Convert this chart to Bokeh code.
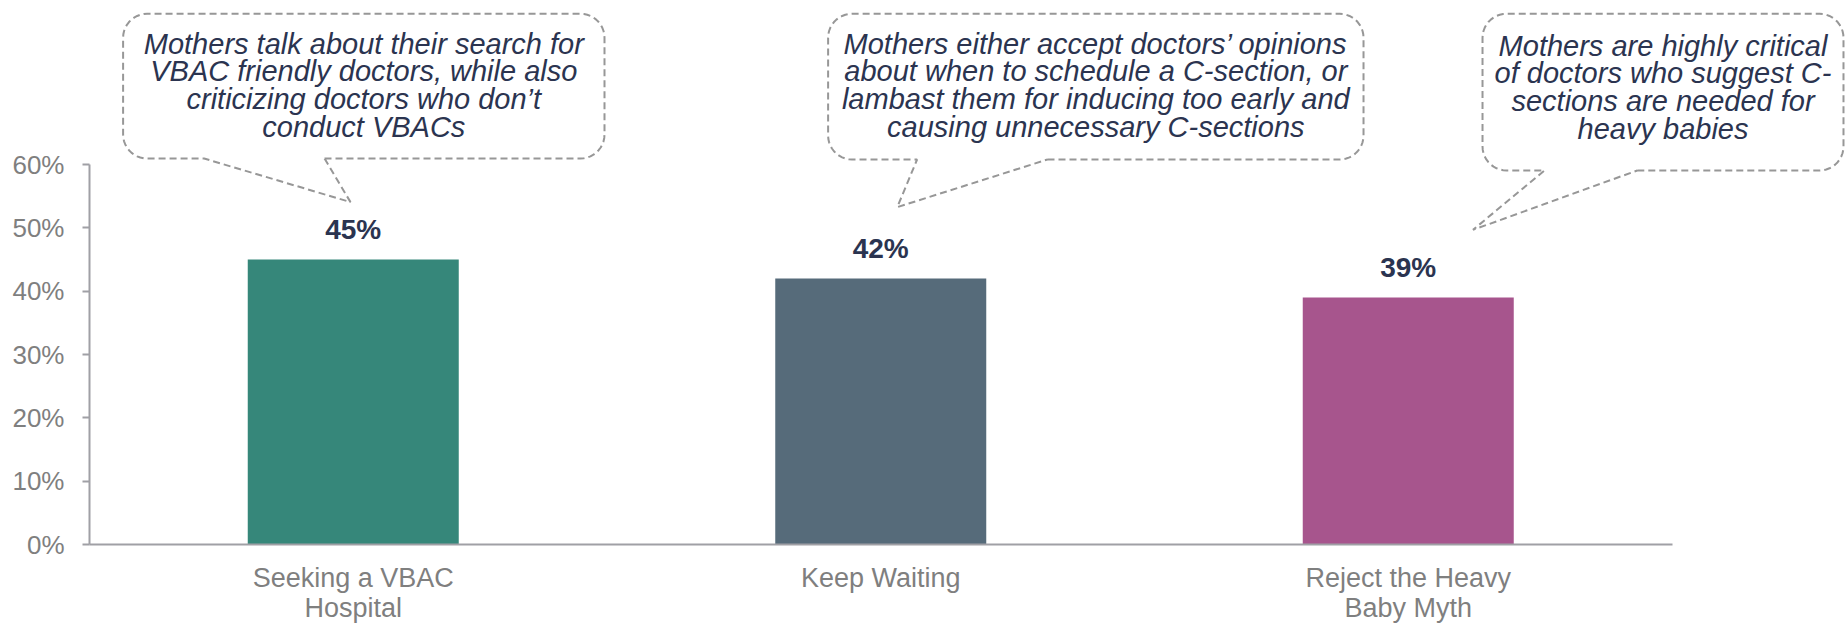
import numpy as np
from bokeh.plotting import figure
from bokeh.models import FixedTicker, PrintfTickFormatter, ColumnDataSource, Range1d
from bokeh.core.properties import value
from bokeh.embed import file_html
from bokeh.resources import INLINE

# ---------------- data ----------------
categories = ["Seeking a VBAC Hospital", "Keep Waiting", "Reject the Heavy Baby Myth"]
tick_labels = ["Seeking a VBAC\nHospital", "Keep Waiting", "Reject the Heavy\nBaby Myth"]
values = [45, 42, 39]
value_labels = ["45%", "42%", "39%"]
bar_colors = ["#36877A", "#566B7A", "#A7558D"]
y_ticks = [0, 10, 20, 30, 40, 50, 60]
callout_lines = [
    ["Mothers talk about their search for", "VBAC friendly doctors, while also",
     "criticizing doctors who don\u2019t", "conduct VBACs"],
    ["Mothers either accept doctors\u2019 opinions", "about when to schedule a C-section, or",
     "lambast them for inducing too early and", "causing unnecessary C-sections"],
    ["Mothers are highly critical", "of doctors who suggest C-",
     "sections are needed for", "heavy babies"],
]

# ---------------- layout ----------------
W, H = 1847, 625
BL, BR, BT, BB = 89, 0, 8, 80
FW, FH = W - BL - BR, H - BT - BB
X_END = FW / 527.5
Y_END = FH / 6.345
px_x = FW / X_END
px_y = FH / Y_END

FONT = "Liberation Sans"
NAVY = "#2B3450"
GRAY_TXT = "#7F7F7F"
AXIS_C = "#A0A0A5"
DASH_C = "#979797"

p = figure(width=W, height=H, output_backend="svg", toolbar_location=None,
           x_range=Range1d(0, X_END), y_range=Range1d(0, Y_END),
           min_border_left=BL, min_border_right=BR, min_border_top=BT, min_border_bottom=BB)
p.outline_line_color = None
p.xgrid.visible = False
p.ygrid.visible = False
p.background_fill_color = "white"
p.border_fill_color = "white"

xs = [i + 0.5 for i in range(len(categories))]
src = ColumnDataSource(dict(x=xs, top=values, color=bar_colors, label=value_labels, cat=categories))
p.vbar(x="x", top="top", bottom=0, width=0.4, fill_color="color", line_color=None, source=src)
p.text(x="x", y="top", text="label", source=src, y_offset=-30,
       text_align="center", text_baseline="alphabetic",
       text_font=value(FONT), text_font_style="bold", text_font_size="28px", text_color=NAVY)

# axes
xa = p.xaxis[0]
xa.ticker = FixedTicker(ticks=xs)
xa.major_label_overrides = {x: lab for x, lab in zip(xs, tick_labels)}
xa.bounds = (0, len(categories))
xa.axis_line_color = AXIS_C
xa.axis_line_width = 2
xa.major_tick_line_color = None
xa.minor_tick_line_color = None
xa.major_tick_out = 0
xa.major_tick_in = 0
xa.major_label_standoff = 18
xa.major_label_text_font = FONT
xa.major_label_text_font_size = "27px"
xa.major_label_text_line_height = 1.0
xa.major_label_text_color = GRAY_TXT

ya = p.yaxis[0]
ya.ticker = FixedTicker(ticks=y_ticks)
ya.formatter = PrintfTickFormatter(format="%d%%")
ya.bounds = (0, 60)
ya.axis_line_color = AXIS_C
ya.axis_line_width = 2
ya.major_tick_line_color = AXIS_C
ya.major_tick_line_width = 2
ya.major_tick_out = 7
ya.major_tick_in = 0
ya.minor_tick_line_color = None
ya.major_label_standoff = 18
ya.major_label_text_font = FONT
ya.major_label_text_font_size = "26px"
ya.major_label_text_color = GRAY_TXT

# ---------------- callouts (annotation geometry, data units) ----------------
callouts = [
    dict(x0=0.0637, x1=0.9763, yt=83.8, yb=60.95, bl=0.2173, br=0.4455, tip=(0.4948, 54.06), base=77.5),
    dict(x0=1.4002, x1=2.4152, yt=83.8, yb=60.79, bl=1.5689, br=1.8161, tip=(1.5314, 53.27), base=77.5),
    dict(x0=2.6408, x1=3.3251, yt=83.8, yb=59.06, bl=2.7583, br=2.9342, tip=(2.6227, 49.68), base=77.2),
]
R = 24.0
rx, ry = R / px_x, R / px_y
LINE_GAP = 27.8 / px_y


def arc(cx, cy, a0, a1, n=12):
    t = np.radians(np.linspace(a0, a1, n))
    return list(cx + rx * np.cos(t)), list(cy + ry * np.sin(t))


for c, lines in zip(callouts, callout_lines):
    x0, x1, yt, yb = c["x0"], c["x1"], c["yt"], c["yb"]
    px, py = [c["br"]], [yb]
    for (cx, cy, a0, a1) in [(x1 - rx, yb + ry, -90, 0), (x1 - rx, yt - ry, 0, 90),
                             (x0 + rx, yt - ry, 90, 180), (x0 + rx, yb + ry, 180, 270)]:
        ax, ay = arc(cx, cy, a0, a1)
        px += ax
        py += ay
    px += [c["bl"], c["tip"][0], c["br"]]
    py += [yb, c["tip"][1], yb]
    p.line(px, py, line_color=DASH_C, line_width=2, line_dash="7 4")
    cxm = (x0 + x1) / 2
    for k, ln in enumerate(lines):
        p.text(x=[cxm], y=[c["base"] - k * LINE_GAP], text=[ln], text_align="center",
               text_baseline="alphabetic", y_offset=-10, text_font=value(FONT),
               text_font_style="italic", text_font_size="29px", text_color=NAVY)

open("out.html", "w").write(file_html(p, INLINE))
